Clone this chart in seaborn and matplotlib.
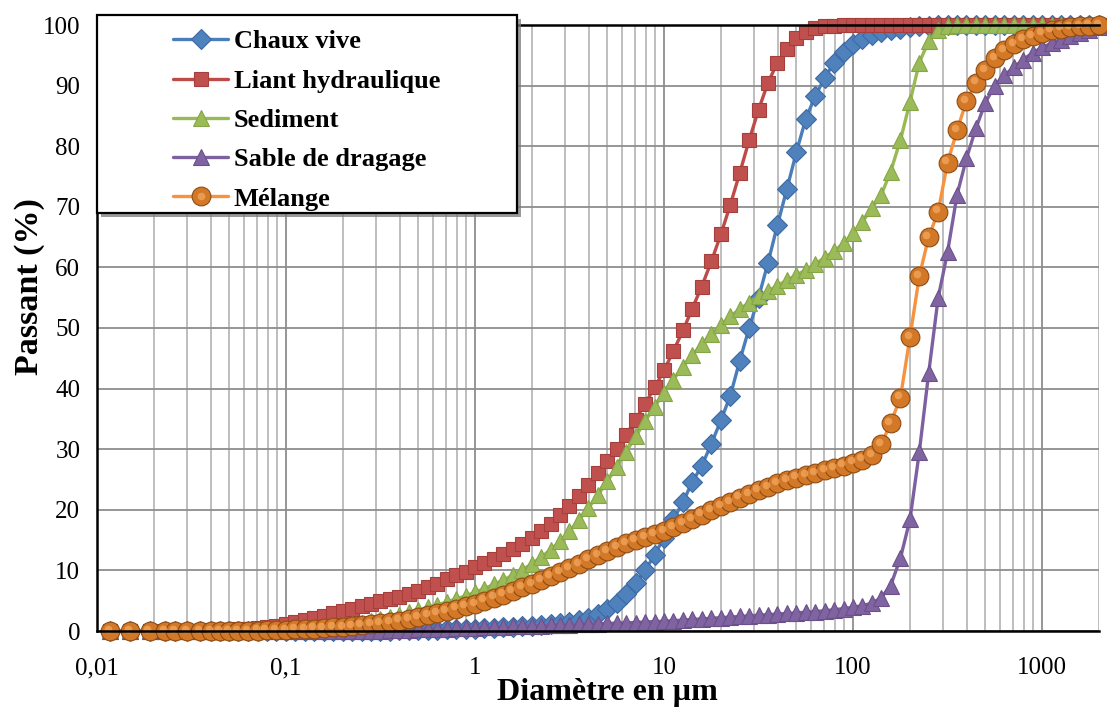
import numpy as np
import pandas as pd
import matplotlib
matplotlib.use("Agg")
import matplotlib.pyplot as plt
import seaborn as sns
from matplotlib.ticker import LogLocator, NullFormatter
from matplotlib.patches import Rectangle
from matplotlib.transforms import offset_copy
from matplotlib.legend_handler import HandlerTuple

# particle size (µm)
d_um = [0.0117, 0.015, 0.019, 0.023, 0.026, 0.030, 0.035, 0.040, 0.045, 0.050, 0.056, 0.063, 0.071, 0.079, 0.089,
        0.100, 0.112, 0.126, 0.141, 0.158, 0.178, 0.200, 0.224, 0.251, 0.282, 0.316, 0.355, 0.398, 0.447, 0.501,
        0.562, 0.631, 0.708, 0.794, 0.891,
        1.00, 1.12, 1.26, 1.41, 1.58, 1.78, 2.00, 2.24, 2.51, 2.82, 3.16, 3.55, 3.98, 4.47, 5.01, 5.62, 6.31, 7.08,
        7.94, 8.91,
        10.0, 11.2, 12.6, 14.1, 15.8, 17.8, 20.0, 22.4, 25.1, 28.2, 31.6, 35.5, 39.8, 44.7, 50.1, 56.2, 63.1, 70.8,
        79.4, 89.1,
        100, 112, 126, 141, 158, 178, 200, 224, 251, 282, 316, 355, 398, 447, 501, 562, 631, 708, 794, 891,
        1000, 1122, 1259, 1413, 1585, 1778, 1995]

chaux_vive = [0, 0, 0, 0, 0, 0, 0, 0, 0, 0, 0, 0, 0, 0, 0,
              0, 0, 0, 0, 0, 0, 0, 0, 0.02, 0.04, 0.06, 0.08, 0.1, 0.13, 0.16, 0.2, 0.24, 0.28, 0.32, 0.36,
              0.4, 0.45, 0.5, 0.6, 0.7, 0.8, 0.9, 1.0, 1.1, 1.3, 1.5, 1.8, 2.2, 2.8, 3.6, 4.7, 6.1, 7.9, 10.0, 12.6,
              15.4, 18.4, 21.3, 24.6, 27.2, 30.9, 34.8, 38.8, 44.5, 50.0, 55.0, 60.8, 67.0, 73.0, 79.0, 84.5, 88.3,
              91.3, 93.8, 95.6,
              96.9, 97.7, 98.3, 98.8, 99.1, 99.4, 99.6, 99.8, 99.9, 100, 100, 100, 100, 100, 100, 100, 100, 100, 100, 100,
              100, 100, 100, 100, 100, 100, 100]

liant_hydraulique = [0, 0, 0, 0, 0, 0, 0.05, 0.1, 0.15, 0.2, 0.3, 0.4, 0.55, 0.7, 0.9,
                     1.2, 1.5, 1.8, 2.1, 2.5, 2.9, 3.3, 3.7, 4.1, 4.5, 4.9, 5.2, 5.6, 6.1, 6.6, 7.2, 7.8, 8.5, 9.2, 9.8,
                     10.5, 11.2, 11.9, 12.7, 13.5, 14.4, 15.4, 16.5, 17.7, 19.1, 20.6, 22.3, 24.1, 26.0, 28.0, 30.1,
                     32.4, 34.9, 37.5, 40.2,
                     43.0, 46.2, 49.6, 53.2, 56.8, 61.0, 65.5, 70.3, 75.5, 81.0, 86.0, 90.5, 93.8, 96.1, 97.8, 98.9,
                     99.5, 99.8, 99.9, 100,
                     100, 100, 100, 100, 100, 100, 100, 100, 100, 100, 100, 100, 100, 100, 100, 100, 100, 100, 100, 100,
                     100, 100, 100, 100, 100, 100, 100]

sediment = [0, 0, 0, 0, 0, 0, 0, 0, 0, 0, 0, 0, 0.05, 0.1, 0.15,
            0.2, 0.3, 0.4, 0.5, 0.6, 0.8, 1.0, 1.2, 1.4, 1.7, 2.0, 2.3, 2.7, 3.1, 3.5, 3.9, 4.3, 4.8, 5.3, 5.8,
            6.4, 7.0, 7.7, 8.4, 9.2, 10.1, 11.1, 12.2, 13.4, 14.8, 16.5, 18.3, 20.3, 22.4, 24.7, 27.1, 29.6, 32.1,
            34.6, 37.0,
            39.3, 41.5, 43.6, 45.5, 47.3, 49.0, 50.5, 51.9, 53.1, 54.2, 55.2, 56.1, 57.0, 57.9, 58.7, 59.6, 60.6,
            61.6, 62.7, 64.0,
            65.6, 67.5, 69.8, 72.0, 75.8, 81.0, 87.3, 93.8, 97.3, 99.2, 99.8, 100, 100, 100, 100, 100, 100, 100, 100, 100,
            100, 100, 100, 100, 100, 100, 100]

sable_de_dragage = [0, 0, 0, 0, 0, 0, 0, 0, 0, 0, 0, 0, 0, 0, 0,
                    0, 0, 0, 0, 0, 0, 0, 0.01, 0.02, 0.05, 0.08, 0.1, 0.15, 0.2, 0.25, 0.3, 0.35, 0.4, 0.45, 0.5,
                    0.55, 0.6, 0.65, 0.7, 0.75, 0.8, 0.85, 0.9, 0.95, 1.0, 1.05, 1.1, 1.15, 1.2, 1.25, 1.3, 1.35, 1.4,
                    1.5, 1.55,
                    1.6, 1.7, 1.8, 1.9, 2.0, 2.1, 2.2, 2.3, 2.4, 2.5, 2.6, 2.7, 2.8, 2.9, 3.0, 3.1, 3.2, 3.35, 3.5, 3.7,
                    3.9, 4.2, 4.6, 5.5, 7.5, 12.0, 18.4, 29.5, 42.5, 55.0, 62.5, 72.0, 78.0, 83.0, 87.2, 90.0, 91.7,
                    93.0, 94.3, 95.4,
                    96.3, 97.0, 97.6, 98.2, 98.7, 99.2, 99.6]

melange = [0, 0, 0, 0, 0, 0, 0, 0, 0, 0, 0, 0, 0.05, 0.1, 0.15,
           0.2, 0.3, 0.35, 0.4, 0.5, 0.6, 0.7, 0.8, 1.0, 1.1, 1.3, 1.5, 1.7, 2.0, 2.3, 2.6, 2.9, 3.3, 3.7, 4.1,
           4.5, 5.0, 5.5, 6.0, 6.6, 7.2, 7.8, 8.4, 9.0, 9.7, 10.4, 11.1, 11.8, 12.5, 13.2, 13.9, 14.5, 15.0, 15.5, 16.0,
           16.5, 17.1, 17.8, 18.5, 19.2, 19.9, 20.6, 21.3, 22.0, 22.6, 23.2, 23.8, 24.4, 24.9, 25.3, 25.7, 26.1,
           26.5, 26.9, 27.3,
           27.8, 28.3, 29.0, 30.8, 34.3, 38.5, 48.5, 58.5, 65.0, 69.2, 77.3, 82.6, 87.5, 90.5, 92.6, 94.6, 95.9,
           96.9, 97.7, 98.2,
           98.6, 99.1, 99.4, 99.6, 99.8, 99.9, 100]

series_names = ["Chaux vive", "Liant hydraulique", "Sediment", "Sable de dragage", "Mélange"]
x_ticks = [0.01, 0.1, 1, 10, 100, 1000]
x_tick_labels = ["0,01", "0,1", "1", "10", "100", "1000"]
y_ticks = [0, 10, 20, 30, 40, 50, 60, 70, 80, 90, 100]

df = pd.DataFrame({
    "d": d_um * 5,
    "passant": chaux_vive + liant_hydraulique + sediment + sable_de_dragage + melange,
    "serie": np.repeat(series_names, len(d_um)),
})

# line colour, marker, marker size, face colour, edge colour
styles = {
    "Chaux vive": ("#4a7ebb", "D", 10.5, "#4f81bd", "#3d6aa3"),
    "Liant hydraulique": ("#be4b48", "s", 9.5, "#c0504d", "#a43f3c"),
    "Sediment": ("#98b954", "^", 11.0, "#9bbb59", "#86a547"),
    "Sable de dragage": ("#7d60a0", "^", 11.0, "#8064a2", "#6b5089"),
    "Mélange": ("#f69240", "o", 13.5, "#d27826", "#8f4c14"),
}

sns.set_theme(style="white")
plt.rcParams["font.family"] = ["Liberation Serif", "DejaVu Serif"]

fig = plt.figure(figsize=(11.07, 7.07), dpi=100)
ax = fig.add_axes([97 / 1107, (707 - 631) / 707, (1099 - 97) / 1107, (631 - 25) / 707])

for name in series_names:
    lc, mk, ms, fc, ec = styles[name]
    sub = df[df["serie"] == name]
    sns.lineplot(data=sub, x="d", y="passant", ax=ax, color=lc, linewidth=2.4,
                 marker=mk, markersize=ms, markerfacecolor=fc, markeredgecolor=ec,
                 markeredgewidth=0.8, label=name, clip_on=False, estimator=None, sort=False)

# highlight on the "Mélange" spheres
sub = df[df["serie"] == "Mélange"]
n_before = len(ax.lines)
sns.lineplot(data=sub, x="d", y="passant", ax=ax, linestyle="none", marker="o", markersize=5.5,
             markerfacecolor="#f4a85e", markeredgecolor="none", alpha=0.75, clip_on=False,
             estimator=None, sort=False, transform=offset_copy(ax.transData, fig, x=-1.6, y=1.6, units="points"))
highlight = ax.lines[n_before]

ax.set_xscale("log")
ax.set_xlim(0.01, 2000)
ax.set_ylim(0, 100)
ax.set_xticks(x_ticks)
ax.set_xticklabels(x_tick_labels)
ax.set_yticks(y_ticks)
ax.xaxis.set_minor_locator(LogLocator(base=10, subs=np.arange(2, 10), numticks=30))
ax.xaxis.set_minor_formatter(NullFormatter())

ax.set_axisbelow(True)
ax.grid(True, which="major", axis="both", color="#8e8e8e", linewidth=1.3)
ax.grid(True, which="minor", axis="x", color="#b9b9b9", linewidth=1.3)

for side, sp in ax.spines.items():
    sp.set_color("black")
    sp.set_linewidth(1.8)
ax.spines["right"].set_visible(False)

ax.tick_params(which="major", direction="out", length=7, width=1.3, color="black",
               labelsize=18, labelcolor="black")
ax.tick_params(axis="x", which="major", pad=12)
ax.tick_params(axis="y", which="major", pad=5)
ax.tick_params(which="minor", length=0)

ax.set_xlabel("Diamètre en µm", fontsize=23, fontweight="bold", color="black")
ax.set_ylabel("Passant (%)", fontsize=24.5, fontweight="bold", color="black")
ax.xaxis.set_label_coords(0.509, -0.078)
ax.yaxis.set_label_coords(-0.052, 0.568)

handles, labels = ax.get_legend_handles_labels()
if ax.get_legend() is not None:
    ax.get_legend().remove()
handles = list(handles[:5])
labels = list(labels[:5])
handles[4] = (handles[4], highlight)

# legend box with shadow
shadow = Rectangle((101 / 1107, 1 - 217 / 707), 420 / 1107, 198 / 707, transform=fig.transFigure,
                   facecolor="#7a7a7a", edgecolor="none", alpha=0.75, zorder=2)
box = Rectangle((97 / 1107, 1 - 213 / 707), 420 / 1107, 198 / 707, transform=fig.transFigure,
                facecolor="white", edgecolor="black", linewidth=1.6, zorder=3)
fig.add_artist(shadow)
fig.add_artist(box)

leg = fig.legend(handles, labels, loc="upper left", bbox_to_anchor=(173 / 1107, 1 - 30 / 707),
                 frameon=False, borderpad=0, borderaxespad=0, handlelength=2.1, handletextpad=0.2,
                 labelspacing=0.6, prop={"weight": "bold", "size": 19},
                 handler_map={tuple: HandlerTuple(ndivide=1, pad=0)})
leg.set_zorder(4)
for t in leg.get_texts():
    t.set_color("black")

fig.savefig("out.png", dpi=100)
